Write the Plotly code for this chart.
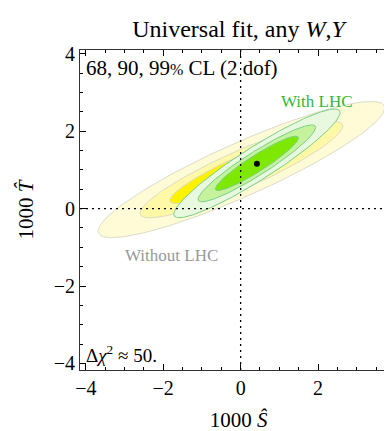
import numpy as np
import plotly.graph_objects as go

# Delta chi^2 levels for 99, 90, 68% CL with 2 dof (outer to inner)
cl_levels = [9.21, 4.61, 2.30]

# Without LHC fit (yellow)
noLHC_center = [0.02, 1.01]
noLHC_sigma = [1.22, 0.58]
noLHC_rho = 0.904

# With LHC fit (green)
LHC_center = [0.42, 1.17]
LHC_sigma = [0.708, 0.463]
LHC_rho = 0.934

best_fit = [0.42, 1.16]

tick_vals = [-4, -2, 0, 2, 4]

yellow_fills = ["#FFFBD6", "#FFF8A6", "#FFF200"]
green_fills = ["#E8F9E0", "#C6F29E", "#7FE800"]
yellow_edge = "#DCDCC8"
green_edge = "#78D088"

SERIF = "Liberation Serif, DejaVu Serif, serif"


def ellipse(center, sigma, rho, k, n=200):
    cov = np.array([[sigma[0] ** 2, rho * sigma[0] * sigma[1]],
                    [rho * sigma[0] * sigma[1], sigma[1] ** 2]])
    L = np.linalg.cholesky(cov)
    t = np.linspace(0, 2 * np.pi, n)
    circ = np.vstack([np.cos(t), np.sin(t)]) * np.sqrt(k)
    pts = L @ circ
    return pts[0] + center[0], pts[1] + center[1]


fig = go.Figure()

for k, col in zip(cl_levels, yellow_fills):
    x, y = ellipse(noLHC_center, noLHC_sigma, noLHC_rho, k)
    fig.add_trace(go.Scatter(x=x, y=y, mode="lines", fill="toself", fillcolor=col,
                             line=dict(color=yellow_edge, width=1), hoverinfo="skip",
                             showlegend=False))
for k, col in zip(cl_levels, green_fills):
    x, y = ellipse(LHC_center, LHC_sigma, LHC_rho, k)
    fig.add_trace(go.Scatter(x=x, y=y, mode="lines", fill="toself", fillcolor=col,
                             line=dict(color=green_edge, width=1), hoverinfo="skip",
                             showlegend=False))

fig.add_trace(go.Scatter(x=[best_fit[0]], y=[best_fit[1]], mode="markers",
                         marker=dict(color="black", size=6), showlegend=False))

# dotted zero lines
fig.add_shape(type="line", xref="x", yref="y", x0=0, x1=0, y0=-4.17, y1=4.10,
              line=dict(color="black", width=1.3, dash="2px,4px"))
fig.add_shape(type="line", xref="x", yref="y", x0=-4.15, x1=4.04, y0=0, y1=0,
              line=dict(color="black", width=1.3, dash="2px,4px"))

axis_common = dict(
    tickvals=tick_vals, ticks="inside", ticklen=6, tickwidth=1, tickcolor="black",
    minor=dict(dtick=0.5, ticks="inside", ticklen=3, tickcolor="black"),
    showline=True, linecolor="#333333", linewidth=1, mirror="allticks",
    showgrid=False, zeroline=False, automargin=False, ticklabeloverflow="allow",
    tickfont=dict(family=SERIF, size=20, color="black"),
)

fig.update_layout(
    width=392, height=431,
    margin=dict(l=72, r=3, t=42, b=69),
    plot_bgcolor="white", paper_bgcolor="white",
    title=dict(text="Universal fit, any <i>W</i>,<i>Y</i>", xref="paper", x=0.5,
               xanchor="center", yref="container", y=0.953, yanchor="middle",
               font=dict(family=SERIF, size=24, color="black")),
    xaxis=dict(range=[-4.15, 4.04], title=dict(text="1000 <i>Ŝ</i>",
               font=dict(family=SERIF, size=21, color="black"), standoff=14),
               **axis_common),
    yaxis=dict(range=[-4.17, 4.10], title=dict(text="1000 <i>T\u0302</i>",
               font=dict(family=SERIF, size=21, color="black"), standoff=14),
               **axis_common),
    font=dict(family=SERIF),
)

fig.add_annotation(text="68, 90, 99<span style='font-size:16px'>%</span> CL (2 dof)",
                   xref="x", yref="y", x=-4.05, y=3.64, xanchor="left", yanchor="middle",
                   showarrow=False, font=dict(family=SERIF, size=21, color="black"))
fig.add_annotation(text="With LHC", xref="x", yref="y", x=1.98, y=2.78,
                   showarrow=False, font=dict(family=SERIF, size=17, color="#33B833"))
fig.add_annotation(text="Without LHC", xref="x", yref="y", x=-1.78, y=-1.20,
                   showarrow=False, font=dict(family=SERIF, size=17, color="#999999"))
fig.add_annotation(text="Δ<i>χ</i><sup>2</sup> ≈ 50.", xref="x", yref="y",
                   x=-4.05, y=-3.76, xanchor="left", yanchor="middle",
                   showarrow=False, font=dict(family=SERIF, size=19, color="black"))

fig.write_html("out.html")
